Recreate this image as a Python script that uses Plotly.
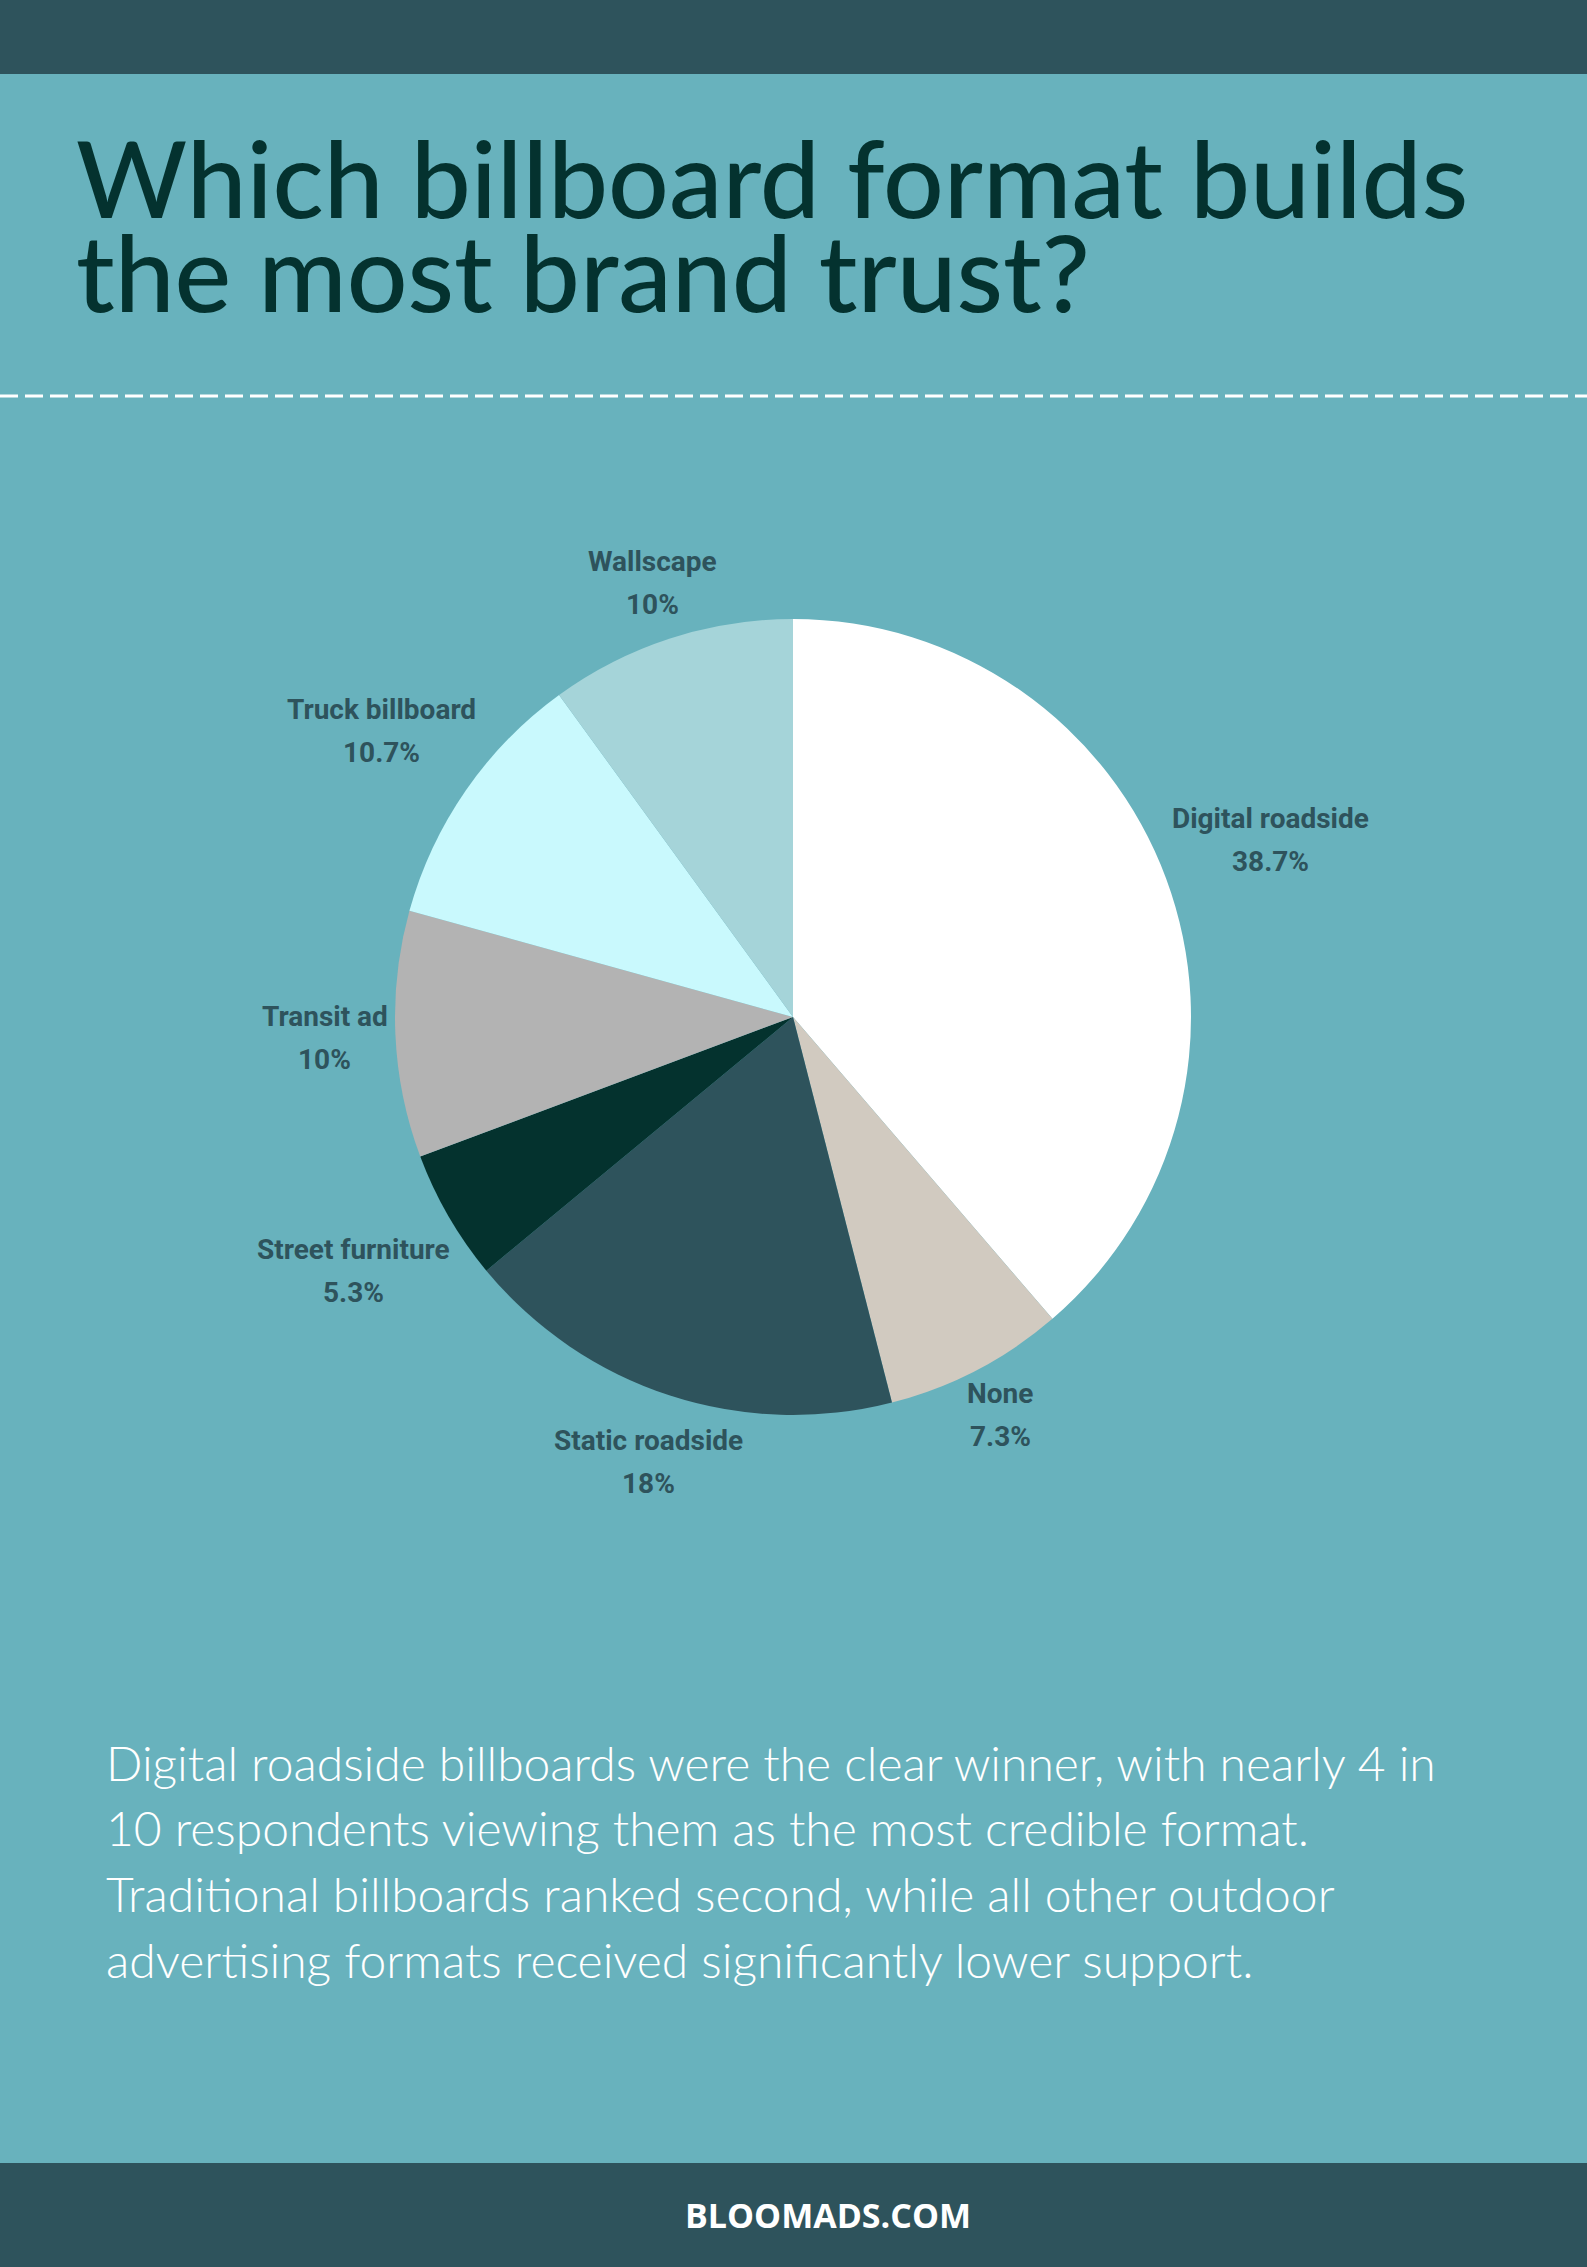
import math
import plotly.graph_objects as go

# ---- data ----
categories = ["Digital roadside", "None", "Static roadside", "Street furniture",
              "Transit ad", "Truck billboard", "Wallscape"]
shares = [38.7, 7.3, 18, 5.3, 10, 10.7, 10]
slice_colors = ["#ffffff", "#d1cac0", "#2e535c", "#04322e", "#b3b3b3", "#c9f9fd", "#a5d4d9"]

title_lines = ["Which billboard format builds", "the most brand trust?"]
body_lines = [
    "Digital roadside billboards were the clear winner, with nearly 4 in",
    "10 respondents viewing them as the most credible format.",
    "Traditional billboards ranked second, while all other outdoor",
    "advertising formats received significantly lower support.",
]
footer_text = "BLOOMADS.COM"

# ---- layout constants ----
W, H = 1587, 2267
BG = "#68b2bd"
DARK = "#2e535c"
cx, cy, r = 793, 1017, 398  # pie centre / radius in pixels (from top)

def px(x):
    return x / W

def py(y):
    return 1 - y / H

fig = go.Figure()
fig.add_trace(go.Pie(
    labels=categories,
    values=shares,
    sort=False,
    direction="clockwise",
    rotation=0,
    marker=dict(colors=slice_colors, line=dict(width=0)),
    textinfo="none",
    hoverinfo="label+percent",
    showlegend=False,
    domain=dict(x=[px(cx - r), px(cx + r)], y=[py(cy + r), py(cy - r)]),
))

annotations = []

# slice labels positioned radially outside each slice (from the data)
label_font = dict(family="Roboto, sans-serif", size=28, color=DARK, weight=700)
total = sum(shares)
cum = 0.0
for name, v in zip(categories, shares):
    mid = (cum + v / 2) / total * 2 * math.pi
    cum += v
    s, c = math.sin(mid), math.cos(mid)
    val_txt = f"{v:g}%"
    half_w = 6.1 * max(len(name), len(val_txt))
    half_h = 35
    D = r + 8 + half_w * abs(s) + half_h * abs(c)
    lx = cx + D * s
    ly = cy - D * c
    annotations.append(dict(x=px(lx), y=py(ly - 21.5), xref="paper", yref="paper",
                            text=f"<b>{name}</b>", showarrow=False, font=label_font,
                            xanchor="center", yanchor="middle"))
    annotations.append(dict(x=px(lx), y=py(ly + 21.5), xref="paper", yref="paper",
                            text=f"<b>{val_txt}</b>", showarrow=False, font=label_font,
                            xanchor="center", yanchor="middle"))

# title lines
for i, t in enumerate(title_lines):
    annotations.append(dict(x=px(74), y=py(176 + 95 * i), xref="paper", yref="paper",
                            text=t, showarrow=False, xanchor="left", yanchor="middle",
                            font=dict(family="Lato, Open Sans, sans-serif", size=107,
                                      color="#04322f", weight=500)))

# body paragraph
for i, t in enumerate(body_lines):
    annotations.append(dict(x=px(104), y=py(1762 + 65.7 * i), xref="paper", yref="paper",
                            text=t, showarrow=False, xanchor="left", yanchor="middle",
                            font=dict(family="Lato, Open Sans, sans-serif", size=48,
                                      color="#ffffff", weight=300)))

# footer
annotations.append(dict(x=px(828), y=py(2215), xref="paper", yref="paper",
                        text=f"<b>{footer_text}</b>", showarrow=False,
                        xanchor="center", yanchor="middle",
                        font=dict(family="Open Sans, sans-serif", size=34, color="#ffffff")))

shapes = [
    dict(type="rect", xref="paper", yref="paper", x0=0, x1=1, y0=py(74), y1=1,
         fillcolor=DARK, line=dict(width=0), layer="below"),
    dict(type="rect", xref="paper", yref="paper", x0=0, x1=1, y0=0, y1=py(2163),
         fillcolor=DARK, line=dict(width=0), layer="below"),
    dict(type="line", xref="paper", yref="paper", x0=0, x1=1, y0=py(396), y1=py(396),
         line=dict(color="#ffffff", width=3, dash="18px,7px")),
]

fig.update_layout(
    width=W, height=H,
    margin=dict(l=0, r=0, t=0, b=0),
    paper_bgcolor=BG, plot_bgcolor=BG,
    annotations=annotations,
    shapes=shapes,
)

fig.write_html("out.html",
               config={"displayModeBar": False},
               post_script="document.body.style.margin='0';document.body.style.overflow='hidden';")
